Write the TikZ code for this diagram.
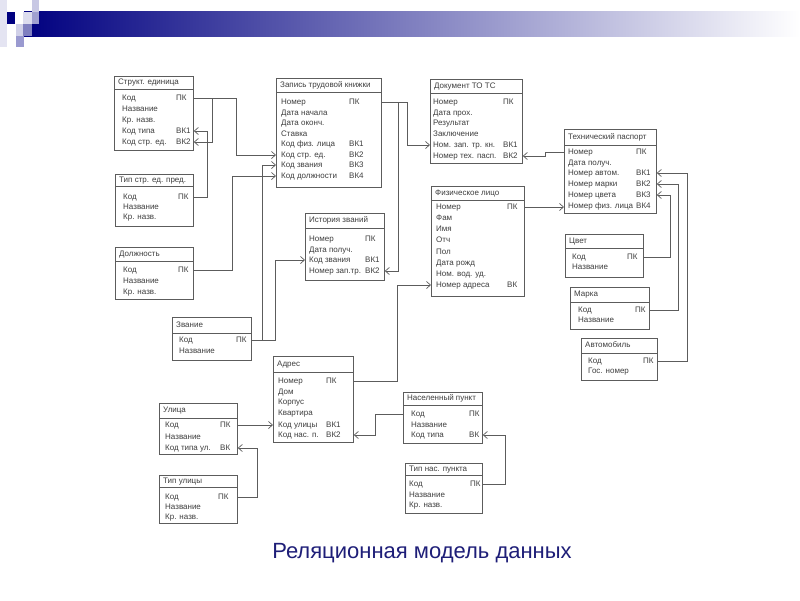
\documentclass[tikz,border=0pt]{standalone}
\usepackage{fontspec}
\setmainfont{Liberation Sans}
\usetikzlibrary{arrows.meta,calc}
\definecolor{txtgray}{HTML}{3E3E3E}
\definecolor{linegray}{HTML}{5C5C5C}
\definecolor{navybar}{HTML}{000080}
\definecolor{titleblue}{HTML}{1E1E78}
\tikzset{
  tbox/.style={draw=linegray, line width=0.8pt, fill=white, inner sep=0pt},
  hline/.style={draw=linegray, line width=0.8pt},
  rt/.style={font=\fontsize{8}{9}\selectfont, text=txtgray, inner sep=0pt, text height=6pt, text depth=1.5pt},
  fk/.style={draw=linegray, line width=0.7pt, -{Straight Barb[length=4pt,width=7pt,line width=0.7pt]}},
}
\newcommand\tbl[9]{%
  \node[tbox, minimum width={(#4-#2)*1pt}, minimum height={(#5-#3)*1pt}, anchor=north west] (#1) at (#2,#3) {};
  \draw[hline] (#2,#6) -- (#4,#6);
  \node[rt, anchor=west] (#1t) at ({#2+4},{(#3+#6)/2}) {#7};
  \gdef\rx{#8}\gdef\kx{#9}}
\newcommand\rw[4]{%
  \node[rt, anchor=west] (#1) at (\rx,#2) {#3};
  \node[rt, anchor=west] (#1k) at (\kx,#2) {#4};}
\newcommand\rn[3]{%
  \node[rt, anchor=west] (#1) at (\rx,#2) {#3};}
\begin{document}
\begin{tikzpicture}[x=1pt,y=-1pt]
\useasboundingbox (0,0) rectangle (800,600);
\fill[white] (0,0) rectangle (800,600);
% header decoration
\shade[left color=navybar, right color=white] (24,11) rectangle (800,36);
\fill[color={rgb,255:red,228;green,228;blue,242}] (0,0) rectangle (7,47);
\fill[navybar] (7,12) rectangle (15,24);
\fill[color={rgb,255:red,200;green,200;blue,228}] (32,0) rectangle (39,12);
\fill[color={rgb,255:red,220;green,220;blue,238}] (23,12) rectangle (32,24);
\fill[color={rgb,255:red,160;green,160;blue,208}] (32,12) rectangle (39,24);
\fill[color={rgb,255:red,128;green,128;blue,192}] (23,24) rectangle (32,36);
\fill[color={rgb,255:red,208;green,208;blue,232}] (16,24) rectangle (23,36);
\fill[color={rgb,255:red,154;green,154;blue,208}] (16,36) rectangle (24,47);

% tables
\tbl{su}{114}{76}{193}{150}{89}{Структ. единица}{122}{176}
\rw{su1}{98}{Код}{ПК}
\rn{su2}{109}{Название}
\rn{su3}{120}{Кр. назв.}
\rw{su4}{131}{Код типа}{ВК1}
\rw{su5}{142}{Код стр. ед.}{ВК2}

\tbl{tsp}{115}{174}{193}{226}{186}{Тип стр. ед. пред.}{123}{178}
\rw{tsp1}{197}{Код}{ПК}
\rn{tsp2}{207}{Название}
\rn{tsp3}{217}{Кр. назв.}

\tbl{dol}{115}{247}{193}{299}{261}{Должность}{123}{178}
\rw{dol1}{270}{Код}{ПК}
\rn{dol2}{281}{Название}
\rn{dol3}{292}{Кр. назв.}

\tbl{ztk}{276}{78}{381}{187}{92}{Запись трудовой книжки}{281}{349}
\rw{ztk1}{102}{Номер}{ПК}
\rn{ztk2}{113}{Дата начала}
\rn{ztk3}{123}{Дата оконч.}
\rn{ztk4}{134}{Ставка}
\rw{ztk5}{144}{Код физ. лица}{ВК1}
\rw{ztk6}{155}{Код стр. ед.}{ВК2}
\rw{ztk7}{165}{Код звания}{ВК3}
\rw{ztk8}{176}{Код должности}{ВК4}

\tbl{ist}{305}{213}{384}{280}{228}{История званий}{309}{365}
\rw{ist1}{239}{Номер}{ПК}
\rn{ist2}{250}{Дата получ.}
\rw{ist3}{260}{Код звания}{ВК1}
\rw{ist4}{271}{Номер зап.тр.}{ВК2}

\tbl{doc}{430}{79}{522}{163}{93}{Документ ТО ТС}{433}{503}
\rw{doc1}{102}{Номер}{ПК}
\rn{doc2}{113}{Дата прох.}
\rn{doc3}{123}{Результат}
\rn{doc4}{134}{Заключение}
\rw{doc5}{145}{Ном. зап. тр. кн.}{ВК1}
\rw{doc6}{156}{Номер тех. пасп.}{ВК2}

\tbl{fl}{431}{186}{524}{296}{200}{Физическое лицо}{436}{507}
\rw{fl1}{207}{Номер}{ПК}
\rn{fl2}{218}{Фам}
\rn{fl3}{229}{Имя}
\rn{fl4}{240}{Отч}
\rn{fl5}{252}{Пол}
\rn{fl6}{263}{Дата рожд}
\rn{fl7}{274}{Ном. вод. уд.}
\rw{fl8}{285}{Номер адреса}{ВК}

\tbl{tp}{564}{129}{656}{213}{145}{Технический паспорт}{568}{636}
\rw{tp1}{152}{Номер}{ПК}
\rn{tp2}{163}{Дата получ.}
\rw{tp3}{173}{Номер автом.}{ВК1}
\rw{tp4}{184}{Номер марки}{ВК2}
\rw{tp5}{195}{Номер цвета}{ВК3}
\rw{tp6}{206}{Номер физ. лица}{ВК4}

\tbl{cv}{565}{234}{643}{277}{248}{Цвет}{572}{627}
\rw{cv1}{257}{Код}{ПК}
\rn{cv2}{267}{Название}

\tbl{mk}{570}{287}{649}{329}{302}{Марка}{578}{635}
\rw{mk1}{310}{Код}{ПК}
\rn{mk2}{320}{Название}

\tbl{av}{581}{338}{657}{380}{353}{Автомобиль}{588}{643}
\rw{av1}{361}{Код}{ПК}
\rn{av2}{371}{Гос. номер}

\tbl{zv}{172}{317}{251}{360}{333}{Звание}{179}{236}
\rw{zv1}{340}{Код}{ПК}
\rn{zv2}{351}{Название}

\tbl{adr}{273}{356}{353}{442}{372}{Адрес}{278}{326}
\rw{adr1}{381}{Номер}{ПК}
\rn{adr2}{392}{Дом}
\rn{adr3}{402}{Корпус}
\rn{adr4}{413}{Квартира}
\rw{adr5}{425}{Код улицы}{ВК1}
\rw{adr6}{435}{Код нас. п.}{ВК2}

\tbl{ul}{159}{403}{237}{454}{418}{Улица}{165}{220}
\rw{ul1}{425}{Код}{ПК}
\rn{ul2}{437}{Название}
\rw{ul3}{448}{Код типа ул.}{ВК}

\tbl{tul}{159}{475}{237}{523}{487}{Тип улицы}{165}{218}
\rw{tul1}{497}{Код}{ПК}
\rn{tul2}{507}{Название}
\rn{tul3}{517}{Кр. назв.}

\tbl{np}{403}{392}{482}{443}{405}{Населенный пункт}{411}{469}
\rw{np1}{414}{Код}{ПК}
\rn{np2}{425}{Название}
\rw{np3}{435}{Код типа}{ВК}

\tbl{tnp}{405}{463}{482}{513}{475}{Тип нас. пункта}{409}{470}
\rw{tnp1}{484}{Код}{ПК}
\rn{tnp2}{495}{Название}
\rn{tnp3}{505}{Кр. назв.}

% connectors
\draw[fk] (su.east|-su1) -- ++(43,0) |- (ztk.west|-ztk6);
\draw[fk] ($(su.east|-su1)+(19,0)$) |- (su.east|-su5);
\draw[fk] (tsp.east|-tsp1) -- ++(14,0) |- (su.east|-su4);
\draw[fk] (dol.east|-dol1) -- ++(39,0) |- (ztk.west|-ztk8);
\draw[fk] (zv.east|-zv1) -- ++(24,0) |- (ist.west|-ist3);
\draw[fk] ($(zv.east|-zv1)+(11,0)$) |- (ztk.west|-ztk7);
\draw[fk] (ztk.east|-ztk1) -- ++(26,0) |- (doc.west|-doc5);
\draw[fk] ($(ztk.east|-ztk1)+(17,0)$) |- (ist.east|-ist4);
\draw[fk] (tp.west|-tp1) -- ++(-19,0) |- (doc.east|-doc6);
\draw[fk] (fl.east|-fl1) -- (tp.west|-fl1);
\draw[fk] (adr.east|-adr1) -- ++(44,0) |- (fl.west|-fl8);
\draw[fk] (ul.east|-ul1) -- (adr.west|-ul1);
\draw[fk] (np.west|-np1) -- ++(-28,0) |- (adr.east|-adr6);
\draw[fk] (tnp.east|-tnp1) -- ++(23,0) |- (np.east|-np3);
\draw[fk] (tul.east|-tul1) -- ++(20,0) |- (ul.east|-ul3);
\draw[fk] (cv.east|-cv1) -- ++(27,0) |- (tp.east|-tp5);
\draw[fk] (mk.east|-mk1) -- ++(29,0) |- (tp.east|-tp4);
\draw[fk] (av.east|-av1) -- ++(30,0) |- (tp.east|-tp3);

% caption
\node[font=\fontsize{22}{26}\selectfont, text=titleblue, inner sep=0pt] (caption) at (422,553) {Реляционная модель данных};
\end{tikzpicture}
\end{document}
